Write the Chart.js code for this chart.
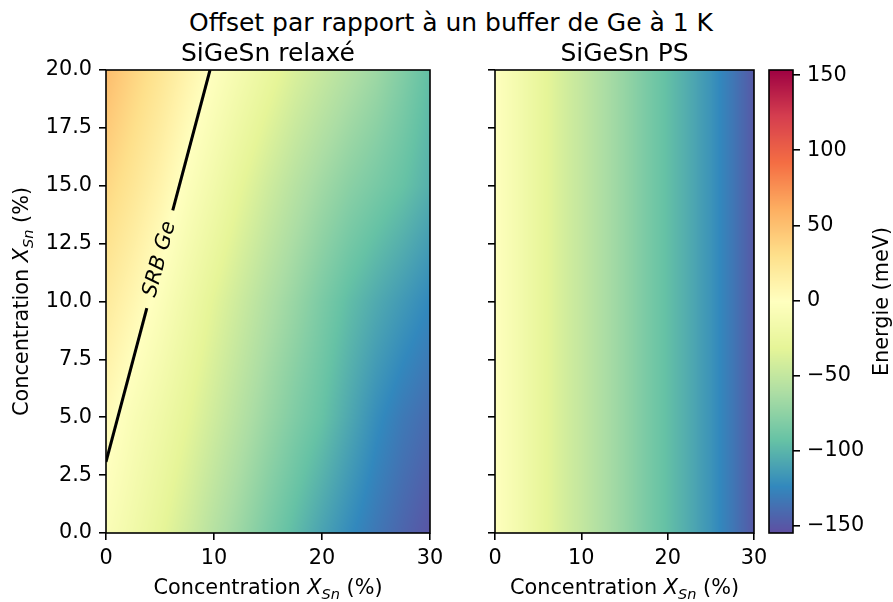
<!DOCTYPE html>
<html lang="fr">
<head>
<meta charset="utf-8">
<title>Offset par rapport à un buffer de Ge à 1 K</title>
<script src="https://cdn.jsdelivr.net/npm/chart.js@4.4.1/dist/chart.umd.min.js"></script>
<style>
  html, body { margin: 0; padding: 0; background: #fff; }
  #figure { position: relative; width: 893px; height: 602px; overflow: hidden; background: #fff; }
  #figure canvas { position: absolute; top: 0; }
  #suptitle {
    position: absolute; left: 0; top: 8px; width: 902px;
    text-align: center; font: 25px "DejaVu Sans"; line-height: 30px;
    color: #000; white-space: nowrap;
  }
</style>
</head>
<body>
<div id="figure">
  <div id="suptitle">Offset par rapport à un buffer de Ge à 1 K</div>
  <canvas id="relaxChart" width="460" height="602" style="left:0"></canvas>
  <canvas id="psChart" width="340" height="602" style="left:440px"></canvas>
  <canvas id="cbarChart" width="133" height="602" style="left:760px"></canvas>
</div>
<script>
// ========== Data ==========

// Sn concentration grid (%) along x, and along y for the relaxed panel
const xSn = [0, 2.5, 5, 7.5, 10, 12.5, 15, 17.5, 20, 22.5, 25, 27.5, 30];
const yRelax = [0, 5, 10, 15, 20];

// SiGeSn relaxé : offset (meV) for each row of yRelax
const relaxAt0  = [-7, -18, -30, -43, -57, -70, -84, -97, -110, -122, -133, -143, -152];
const relaxAt5  = [5, -8, -19, -31, -44, -57, -70, -82, -93, -107, -121, -132, -140];
const relaxAt10 = [20, 8, -5, -19, -33, -46, -59, -71, -84, -96, -106, -115, -124];
const relaxAt15 = [36, 24, 11, -4, -17, -31, -44, -56, -67, -77, -85, -93, -103];
const relaxAt20 = [52, 38, 25, 11, -2, -14, -26, -38, -48, -58, -68, -81, -95];

// SiGeSn PS : offset (meV), independent of y
const psEnergy = [-2, -14, -27, -39, -50, -61, -72, -84, -95, -106, -118, -133, -150];

// SRB Ge line (two segments, broken around the label)
const srbX = [0, 3.78, 6.18, 9.63];
const srbY = [3.07, 9.71, 13.94, 20];

// Ticks
const xTickValues = [0, 10, 20, 30];
const yTickValues = [0, 2.5, 5, 7.5, 10, 12.5, 15, 17.5, 20];
const cbarTickValues = [-150, -100, -50, 0, 50, 100, 150];

// Colour scale limits (meV)
const energyMin = -155;
const energyMax = 153.5;

// Spectral_r stops, low -> high
const spectralR = ['#5e4fa2', '#3288bd', '#66c2a5', '#abdda4', '#e6f598', '#ffffbf',
                   '#fee08b', '#fdae61', '#f46d43', '#d53e4f', '#9e0142'];

// ========== Helpers ==========

const FONT = '"DejaVu Sans"';
const TICK_SIZE = 20.8;

const stopRGB = spectralR.map(h => [parseInt(h.slice(1, 3), 16), parseInt(h.slice(3, 5), 16), parseInt(h.slice(5, 7), 16)]);

function energyColor(v) {
    let t = (v - energyMin) / (energyMax - energyMin);
    t = Math.min(1, Math.max(0, t)) * (stopRGB.length - 1);
    const i = Math.min(stopRGB.length - 2, Math.floor(t));
    const f = t - i;
    const a = stopRGB[i], b = stopRGB[i + 1];
    return [a[0] + (b[0] - a[0]) * f, a[1] + (b[1] - a[1]) * f, a[2] + (b[2] - a[2]) * f];
}

function cellIndex(arr, v) {
    let i = 0;
    while (i < arr.length - 2 && v > arr[i + 1]) i++;
    return i;
}

function bilinear(xs, ys, grid, x, y) {
    x = Math.min(xs[xs.length - 1], Math.max(xs[0], x));
    y = Math.min(ys[ys.length - 1], Math.max(ys[0], y));
    const i = cellIndex(xs, x), j = cellIndex(ys, y);
    const tx = (x - xs[i]) / (xs[i + 1] - xs[i]);
    const ty = (y - ys[j]) / (ys[j + 1] - ys[j]);
    const a = grid[j][i], b = grid[j][i + 1], c = grid[j + 1][i], d = grid[j + 1][i + 1];
    return a * (1 - tx) * (1 - ty) + b * tx * (1 - ty) + c * (1 - tx) * ty + d * tx * ty;
}

function fmtMinus(v) {
    return v < 0 ? '\u2212' + Math.abs(v) : String(v);
}

// draws text parts centred on the origin, baseline at y = 0
function drawRichText(ctx, parts, size) {
    const fonts = parts.map(p => (p.italic ? 'italic ' : '') + (p.sub ? size * 0.7 : size) + 'px ' + FONT);
    let total = 0;
    const widths = parts.map((p, i) => {
        ctx.font = fonts[i];
        const w = ctx.measureText(p.text).width;
        total += w;
        return w;
    });
    let cx = -total / 2;
    ctx.textAlign = 'left';
    ctx.textBaseline = 'alphabetic';
    parts.forEach((p, i) => {
        ctx.font = fonts[i];
        ctx.fillText(p.text, cx, p.sub ? size * 0.24 : 0);
        cx += widths[i];
    });
}

const concLabel = [
    { text: 'Concentration ' },
    { text: 'X', italic: true },
    { text: 'Sn', italic: true, sub: true },
    { text: ' (%)' }
];

// ========== Plugins ==========

function heatmapPlugin(xs, ys, grid) {
    return {
        id: 'heatmap',
        beforeDatasetsDraw(chart) {
            const { ctx, chartArea: a, scales: { x, y } } = chart;
            const w = Math.round(a.right - a.left), h = Math.round(a.bottom - a.top);
            const off = document.createElement('canvas');
            off.width = w;
            off.height = h;
            const octx = off.getContext('2d');
            const img = octx.createImageData(w, h);
            const xv = [];
            for (let px = 0; px < w; px++) xv.push(x.getValueForPixel(a.left + px + 0.5));
            for (let py = 0; py < h; py++) {
                const yv = y.getValueForPixel(a.top + py + 0.5);
                for (let px = 0; px < w; px++) {
                    const c = energyColor(bilinear(xs, ys, grid, xv[px], yv));
                    const k = (py * w + px) * 4;
                    img.data[k] = c[0];
                    img.data[k + 1] = c[1];
                    img.data[k + 2] = c[2];
                    img.data[k + 3] = 255;
                }
            }
            octx.putImageData(img, 0, 0);
            ctx.drawImage(off, a.left, a.top);
        }
    };
}

function framePlugin(texts) {
    return {
        id: 'frameTexts',
        afterDraw(chart) {
            const { ctx, chartArea: a } = chart;
            ctx.save();
            ctx.strokeStyle = '#000';
            ctx.lineWidth = 1.6;
            ctx.strokeRect(a.left, a.top, a.right - a.left, a.bottom - a.top);
            ctx.fillStyle = '#000';
            const cx = (a.left + a.right) / 2;
            const cy = (a.top + a.bottom) / 2;
            if (texts.title) {
                ctx.font = '25px ' + FONT;
                ctx.textAlign = 'center';
                ctx.textBaseline = 'alphabetic';
                ctx.fillText(texts.title, cx, 61);
            }
            if (texts.xTitle) {
                ctx.save();
                ctx.translate(cx, 594);
                drawRichText(ctx, texts.xTitle, TICK_SIZE);
                ctx.restore();
            }
            if (texts.yTitle) {
                ctx.save();
                ctx.translate(28, cy);
                ctx.rotate(-Math.PI / 2);
                drawRichText(ctx, texts.yTitle, TICK_SIZE);
                ctx.restore();
            }
            if (texts.cbarTitle) {
                ctx.save();
                ctx.translate(texts.cbarX, cy);
                ctx.rotate(-Math.PI / 2);
                drawRichText(ctx, [{ text: texts.cbarTitle }], TICK_SIZE);
                ctx.restore();
            }
            ctx.restore();
        }
    };
}

const srbLabelPlugin = {
    id: 'srbLabel',
    afterDatasetsDraw(chart) {
        const { ctx, scales: { x, y } } = chart;
        const p0 = { x: x.getPixelForValue(srbX[0]), y: y.getPixelForValue(srbY[0]) };
        const p3 = { x: x.getPixelForValue(srbX[3]), y: y.getPixelForValue(srbY[3]) };
        const angle = Math.atan2(p3.y - p0.y, p3.x - p0.x);
        const cx = x.getPixelForValue((srbX[1] + srbX[2]) / 2);
        const cy = y.getPixelForValue((srbY[1] + srbY[2]) / 2);
        ctx.save();
        ctx.translate(cx, cy);
        ctx.rotate(angle);
        ctx.font = 'italic ' + TICK_SIZE + 'px ' + FONT;
        ctx.fillStyle = '#000';
        ctx.textAlign = 'center';
        ctx.textBaseline = 'middle';
        ctx.fillText('SRB Ge', 0, 0);
        ctx.restore();
    }
};

const cbarPlugin = {
    id: 'cbar',
    beforeDatasetsDraw(chart) {
        const { ctx, chartArea: a, scales: { y } } = chart;
        for (let py = Math.floor(a.top); py < a.bottom; py++) {
            const c = energyColor(y.getValueForPixel(py + 0.5));
            ctx.fillStyle = 'rgb(' + c.map(Math.round).join(',') + ')';
            ctx.fillRect(a.left, py, a.right - a.left, 1);
        }
    }
};

// ========== Axes ==========

const tickGrid = { drawOnChartArea: false, drawTicks: true, tickLength: 7, lineWidth: 1.6, color: '#000' };

function xAxis() {
    return {
        type: 'linear', min: 0, max: 30,
        afterBuildTicks: s => { s.ticks = xTickValues.map(v => ({ value: v })); },
        afterFit: s => { s.height = 69; },
        ticks: { padding: 6, maxRotation: 0, autoSkip: false, color: '#000', callback: v => String(v) },
        grid: tickGrid,
        border: { display: false }
    };
}

function yAxis(width, showLabels) {
    return {
        type: 'linear', min: 0, max: 20,
        afterBuildTicks: s => { s.ticks = yTickValues.map(v => ({ value: v })); },
        afterFit: s => { s.width = width; },
        ticks: { padding: 7, autoSkip: false, color: '#000', callback: v => showLabels ? v.toFixed(1) : '' },
        grid: tickGrid,
        border: { display: false }
    };
}

// ========== Charts ==========

Chart.defaults.font.family = FONT;
Chart.defaults.font.size = TICK_SIZE;
Chart.defaults.color = '#000';

const baseOptions = {
    responsive: false,
    animation: false,
    devicePixelRatio: 1,
    events: [],
};

function srbDataset(i) {
    return {
        data: [{ x: srbX[i], y: srbY[i] }, { x: srbX[i + 1], y: srbY[i + 1] }],
        showLine: true,
        borderColor: '#000',
        borderWidth: 3,
        pointRadius: 0
    };
}

new Chart(document.getElementById('relaxChart'), {
    type: 'scatter',
    data: { datasets: [srbDataset(0), srbDataset(2)] },
    options: Object.assign({}, baseOptions, {
        layout: { padding: { top: 70, right: 30, bottom: 0, left: 0 } },
        plugins: { legend: { display: false }, tooltip: { enabled: false } },
        scales: { x: xAxis(), y: yAxis(106, true) }
    }),
    plugins: [
        heatmapPlugin(xSn, yRelax, [relaxAt0, relaxAt5, relaxAt10, relaxAt15, relaxAt20]),
        srbLabelPlugin,
        framePlugin({ title: 'SiGeSn relax\u00e9', xTitle: concLabel, yTitle: concLabel })
    ]
});

new Chart(document.getElementById('psChart'), {
    type: 'scatter',
    data: { datasets: [] },
    options: Object.assign({}, baseOptions, {
        layout: { padding: { top: 70, right: 26, bottom: 0, left: 0 } },
        plugins: { legend: { display: false }, tooltip: { enabled: false } },
        scales: { x: xAxis(), y: yAxis(55, false) }
    }),
    plugins: [
        heatmapPlugin(xSn, [0, 20], [psEnergy, psEnergy]),
        framePlugin({ title: 'SiGeSn PS', xTitle: concLabel })
    ]
});

new Chart(document.getElementById('cbarChart'), {
    type: 'scatter',
    data: { datasets: [] },
    options: Object.assign({}, baseOptions, {
        layout: { padding: { top: 70, right: 0, bottom: 69, left: 9 } },
        plugins: { legend: { display: false }, tooltip: { enabled: false } },
        scales: {
            x: { type: 'linear', display: false, min: 0, max: 1 },
            y: {
                type: 'linear', position: 'right', min: energyMin, max: energyMax,
                afterBuildTicks: s => { s.ticks = cbarTickValues.map(v => ({ value: v })); },
                afterFit: s => { s.width = 100; },
                ticks: { padding: 7, autoSkip: false, color: '#000', callback: v => fmtMinus(v) },
                grid: tickGrid,
                border: { display: false }
            }
        }
    }),
    plugins: [cbarPlugin, framePlugin({ cbarTitle: 'Energie (meV)', cbarX: 128 })]
});
</script>
</body>
</html>
